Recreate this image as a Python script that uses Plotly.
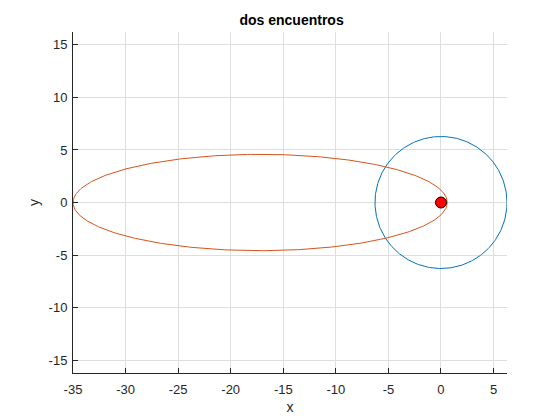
import numpy as np
import plotly.graph_objects as go

# Data
circle_center = [0.0, 0.0]
circle_radius = 6.28
orbit_periapsis = 0.6      # closest distance from focus (origin)
orbit_apoapsis = 35.0      # farthest distance from focus (origin)
body_x = [0.0]
body_y = [0.0]
x_ticks = [-35, -30, -25, -20, -15, -10, -5, 0, 5]
x_tick_labels = ["-35", "-30", "-25", "-20", "-15", "-10", "-5", "0", "5"]
y_ticks = [-15, -10, -5, 0, 5, 10, 15]
y_tick_labels = ["-15", "-10", "-5", "0", "5", "10", "15"]
x_range = [-35, 6.28]
y_range = [-16.22, 16.22]

theta = np.linspace(0, 2 * np.pi, 400)

# Circle
cx = circle_center[0] + circle_radius * np.cos(theta)
cy = circle_center[1] + circle_radius * np.sin(theta)

# Ellipse with a focus at origin, opening to the left
a = (orbit_periapsis + orbit_apoapsis) / 2
b = np.sqrt(orbit_periapsis * orbit_apoapsis)
center_x = orbit_periapsis - a
ex = center_x + a * np.cos(theta)
ey = b * np.sin(theta)

fig = go.Figure()
fig.add_trace(go.Scatter(x=cx, y=cy, mode="lines",
                         line=dict(color="#0072BD", width=1), showlegend=False))
fig.add_trace(go.Scatter(x=ex, y=ey, mode="lines",
                         line=dict(color="#D95319", width=1), showlegend=False))
fig.add_trace(go.Scatter(x=body_x, y=body_y, mode="markers",
                         marker=dict(color="red", size=11,
                                     line=dict(color="black", width=1)),
                         showlegend=False))

font = "Liberation Sans, Arial, sans-serif"
fig.update_layout(
    width=560, height=420,
    margin=dict(l=65, r=61, t=24, b=55),
    paper_bgcolor="white", plot_bgcolor="white",
    font=dict(family=font, size=13, color="#262626"),
    title=dict(text="<b>dos encuentros</b>", x=(290 - 8) / 560, xanchor="center",
               xref="paper", y=1 - 12 / 420, yanchor="middle",
               font=dict(family=font, size=14, color="black")),
    xaxis=dict(range=x_range, tickvals=x_ticks, ticktext=x_tick_labels,
               showgrid=True, gridcolor="#DEDEDE", gridwidth=1, zeroline=False,
               showline=True, linecolor="#262626", linewidth=1,
               ticks="inside", ticklen=5, tickcolor="#262626",
               ticklabelstandoff=4,
               title=dict(text="x", font=dict(size=14), standoff=6)),
    yaxis=dict(range=y_range, tickvals=y_ticks, ticktext=y_tick_labels,
               showgrid=True, gridcolor="#DEDEDE", gridwidth=1, zeroline=False,
               showline=True, linecolor="#262626", linewidth=1,
               ticks="inside", ticklen=5, tickcolor="#262626",
               ticklabelstandoff=2,
               title=dict(text="y", font=dict(size=14), standoff=5)),
)

fig.write_html("out.html")
